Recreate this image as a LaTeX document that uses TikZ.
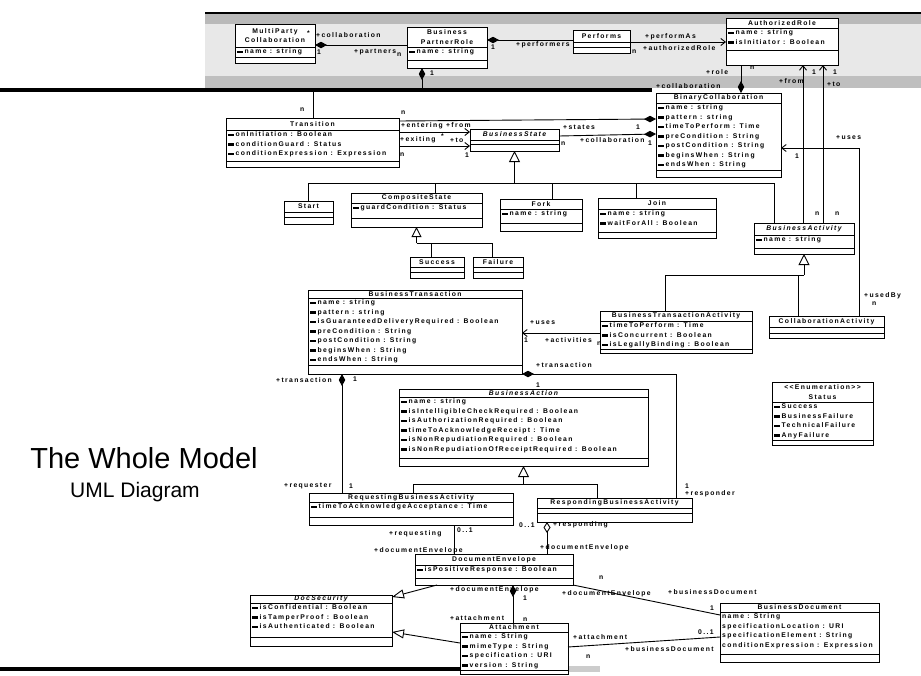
\documentclass[tikz,border=0pt]{standalone}
\usepackage{fontspec}
\setmainfont{Liberation Sans}
\newfontfamily\uf[LetterSpace=20]{Liberation Sans}
\usetikzlibrary{arrows.meta}
\newcommand\ico{\raisebox{0.3pt}{\rule{6pt}{2.6pt}}\kern1.5pt}
\newcommand\lf{\uf\bfseries\fontsize{6.8}{9.5}\selectfont}
\tikzset{
 cbox/.style={draw, line width=0.9pt, inner sep=0pt, outer sep=0pt, fill=white},
 cline/.style={line width=0.9pt},
 ctitle/.style={font=\lf, inner sep=0pt, align=center},
 cattr/.style={font=\lf, inner sep=0pt, align=left, anchor=north west},
 lbl/.style={font=\lf, inner sep=0pt, anchor=west},
 conn/.style={line width=0.9pt},
 comp/.style={{Diamond[length=12pt,width=6.5pt]}-},
 compe/.style={-{Diamond[length=12pt,width=6.5pt]}},
 aggr/.style={{Diamond[open,length=11pt,width=7pt]}-},
 nav/.style={-{Straight Barb[length=4.5pt,width=7pt]}},
 gen/.style={-{Triangle[open,length=11pt,width=11pt]}}
}
\newcommand\uclass[9]{%
  \pgfmathsetmacro\cw{#4-#2}%
  \pgfmathsetmacro\ch{#5-#3}%
  \node[cbox, minimum width=\cw pt, minimum height=\ch pt, anchor=north west] (#1) at (#2,#3) {};
  \draw[cline] (#2,#6) -- (#4,#6) (#2,#7) -- (#4,#7);
  \node[ctitle] (#1-t) at ({(#2+#4)/2},{(#3+#6)/2}) {#8};
  \node[cattr] (#1-a) at ({#2+2},{#6+1.6}) {#9};
}
\begin{document}
\begin{tikzpicture}[x=1pt,y=-1pt]
\useasboundingbox (0,0) rectangle (921,675);
\fill[white] (0,0) rectangle (921,675);
% top band
\fill[gray!18] (205,13) rectangle (921,88);
\fill[gray!55] (205,14) rectangle (921,24);
\fill[gray!50] (205,76) rectangle (921,88);
\draw[line width=2pt] (205,13) -- (921,13);
\draw[line width=3.5pt] (0,90) -- (652,90);
\draw[line width=4pt] (0,669) -- (460,669);
\fill[gray!40] (568,666) rectangle (600,672);

% classes
\uclass{mpc}{235}{24}{315}{63}{47}{57}{MultiParty\\Collaboration}{\ico name : string}
\uclass{bpr}{407}{27}{487}{68}{47}{60}{Business\\PartnerRole}{\ico name : string}
\uclass{perf}{573}{30}{630}{53}{42}{47}{Performs}{}
\uclass{ar}{726}{18}{838}{65}{28}{50}{AuthorizedRole}{\ico name : string\\\ico isInitiator : Boolean}
\uclass{bc}{656}{93}{781}{177}{103}{170}{BinaryCollaboration}{\ico name : string\\\ico pattern : string\\\ico timeToPerform : Time\\\ico preCondition : String\\\ico postCondition : String\\\ico beginsWhen : String\\\ico endsWhen : String}
\uclass{tr}{226}{118}{399}{167}{130}{161}{Transition}{\fontsize{6.8}{10}\selectfont\ico onInitiation : Boolean\\\ico conditionGuard : Status\\\ico conditionExpression : Expression}
\uclass{bs}{470}{129}{559}{151}{140}{144}{\itshape BusinessState}{}
\uclass{start}{284}{201}{333}{224}{212}{217}{Start}{}
\uclass{cs}{351}{193}{482}{227}{203}{218}{CompositeState}{\ico guardCondition : Status}
\uclass{fork}{500}{199}{582}{231}{209}{223}{Fork}{\ico name : string}
\uclass{join}{598}{198}{716}{238}{209}{232}{Join}{\ico name : string\\\ico waitForAll : Boolean}
\uclass{succ}{410}{257}{464}{278}{267}{272}{Success}{}
\uclass{fail}{473}{257}{523}{278}{267}{272}{Failure}{}
\uclass{ba}{754}{223}{854}{254}{235}{248}{\itshape BusinessActivity}{\ico name : string}
\uclass{bta}{600}{311}{752}{353}{321}{349}{BusinessTransactionActivity}{\fontsize{6.8}{9}\selectfont\ico timeToPerform : Time\\\ico isConcurrent : Boolean\\\ico isLegallyBinding : Boolean}
\uclass{ca}{769}{316}{884}{338}{327}{333}{CollaborationActivity}{}
\uclass{bt}{308}{290}{522}{374}{298}{365}{BusinessTransaction}{\ico name : string\\\ico pattern : string\\\ico isGuaranteedDeliveryRequired : Boolean\\\ico preCondition : String\\\ico postCondition : String\\\ico beginsWhen : String\\\ico endsWhen : String}
\uclass{bact}{399}{389}{648}{466}{397}{458}{\itshape BusinessAction}{\fontsize{6.8}{10}\selectfont\ico name : string\\\ico isIntelligibleCheckRequired : Boolean\\\ico isAuthorizationRequired : Boolean\\\ico timeToAcknowledgeReceipt : Time\\\ico isNonRepudiationRequired : Boolean\\\ico isNonRepudiationOfReceiptRequired : Boolean}
\uclass{status}{772}{382}{873}{445}{402}{440}{<<Enumeration>>\\Status}{\fontsize{6.8}{9}\selectfont\ico Success\\\ico BusinessFailure\\\ico TechnicalFailure\\\ico AnyFailure}
\uclass{req}{309}{493}{513}{525}{502}{517}{RequestingBusinessActivity}{\ico timeToAcknowledgeAcceptance : Time}
\uclass{resp}{537}{498}{692}{522}{508}{513}{RespondingBusinessActivity}{}
\uclass{de}{415}{554}{573}{585}{565}{578}{DocumentEnvelope}{\ico isPositiveResponse : Boolean}
\uclass{dsec}{250}{595}{392}{646}{603}{637}{\itshape DocSecurity}{\fontsize{6.8}{10}\selectfont\ico isConfidential : Boolean\\\ico isTamperProof : Boolean\\\ico isAuthenticated : Boolean}
\uclass{att}{460}{623}{568}{674}{632}{670}{Attachment}{\ico name : String\\\ico mimeType : String\\\ico specification : URI\\\ico version : String}
\uclass{bd}{720}{603}{879}{662}{612}{654}{BusinessDocument}{\fontsize{6.8}{10.5}\selectfont name : String\\specificationLocation : URI\\specificationElement : String\\conditionExpression : Expression}

% connectors
\draw[conn, comp] (mpc.east |- 0,45) -- (bpr.west |- 0,45);
\draw[conn, comp] (bpr.east |- 0,40) -- (perf.west |- 0,40);
\draw[conn, nav] (perf.east |- 0,42) -- (ar.west |- 0,42);
\coordinate (bprdown) at (422,90);
\draw[conn, comp] (bpr.south -| 422,0) -- (bprdown);
\coordinate (trup) at (313,91);
\draw[conn] (tr.north -| 313,0) -- (trup);
\draw[conn, compe] (ar.south -| 741,0) -- (bc.north -| 741,0);
\draw[conn, nav] (ba.north -| 803,0) -- (ar.south -| 803,0);
\draw[conn, nav] (ba.north -| 823,0) -- (ar.south -| 823,0);
\draw[conn, nav] (ca.north -| 859,0) |- (bc.east |- 0,148);
\draw[conn, nav] (tr.east |- 0,132) -- (bs.west |- 0,132);
\draw[conn, nav] (tr.east |- 0,146) -- (bs.west |- 0,146);
\draw[conn, compe] (tr.east |- 0,121) -- (bc.west |- 0,119);
\draw[conn, compe] (bs.east |- 0,136) -- (bc.west |- 0,134);
% generalisation tree of BusinessState
\draw[conn, gen] (bs.south |- 0,183) -- (bs.south);
\draw[conn] (start.north) -- (start.north |- 0,183) -- (774,183) -- (ba.north -| 774,0);
\draw[conn] (cs.north -| 435,0) -- (435,183);
\draw[conn] (fork.north -| 552,0) -- (552,183);
\draw[conn] (join.north -| 636,0) -- (636,183);
\draw[conn, -{Triangle[open,length=10pt,width=10pt]}] (cs.south |- 0,243) -- (cs.south);
\draw[conn] (cs.south |- 0,243) -- (492,243) -- (fail.north -| 492,0);
\draw[conn] (431,243) -- (succ.north -| 431,0);
\draw[conn, gen] (ba.south |- 0,275) -- (ba.south);
\draw[conn] (bta.north -| 665,0) |- (ba.south |- 0,275);
\draw[conn] (ca.north -| 798,0) -- (798,275);
% transaction part
\draw[conn, nav] (bta.west |- 0,333) -- (bt.east |- 0,333);
\draw[conn, comp] (bt.south east) -- (676,374) -- (resp.north -| 676,0);
\draw[conn, comp] (bt.south -| 342,0) -- (req.north -| 342,0);
\draw[conn, gen] (bact.south |- 0,484) -- (bact.south);
\draw[conn] (req.north -| 413,0) -- (413,484) -- (597,484) -- (resp.north -| 597,0);
\draw[conn] (req.south -| 454,0) -- (de.north -| 454,0);
\draw[conn, aggr] (resp.south -| 547,0) -- (de.north -| 547,0);
\draw[conn, -{Triangle[open,length=12pt,width=9pt]}] (de.south -| 437,0) -- (dsec.east |- 0,597);
\draw[conn, -{Triangle[open,length=12pt,width=9pt]}] (att.west |- 0,643) -- (dsec.east |- 0,632);
\draw[conn, comp] (de.south -| 513,0) -- (att.north -| 513,0);
\draw[conn] (de.south east) -- (bd.west |- 0,615);
\draw[conn] (att.east |- 0,647) -- (bd.west |- 0,637);

% labels
\node[lbl] (a1) at (307,33) {*};
\node[lbl] (a2) at (316,35) {+collaboration};
\node[lbl] (a3) at (317,52) {1};
\node[lbl] (a4) at (354,52) {+partners};
\node[lbl] (a5) at (397,55) {n};
\node[lbl] (a6) at (491,47) {1};
\node[lbl] (a7) at (516,45) {+performers};
\node[lbl] (a8) at (632,52) {n};
\node[lbl] (a9) at (645,37) {+performAs};
\node[lbl] (a10) at (643,48) {+authorizedRole};
\node[lbl] (a11) at (430,73) {1};
\node[lbl] (a12) at (706,72) {+role};
\node[lbl] (a13) at (750,68) {n};
\node[lbl] (a14) at (656,86) {+collaboration};
\node[lbl] (a15) at (779,81) {+from};
\node[lbl] (a16) at (812,72) {1};
\node[lbl] (a17) at (833,72) {1};
\node[lbl] (a18) at (827,84) {+to};
\node[lbl] (b1) at (563,127) {+states};
\node[lbl] (b2) at (636,127) {1};
\node[lbl] (b3) at (580,140) {+collaboration};
\node[lbl] (b4) at (648,143) {1};
\node[lbl] (b5) at (561,144) {n};
\node[lbl] (b6) at (300,110) {n};
\node[lbl] (b7) at (401,113) {n};
\node[lbl] (b8) at (401,126) {+entering +from};
\node[lbl] (b9) at (400,140) {+exiting};
\node[lbl] (b10) at (441,136) {*};
\node[lbl] (b11) at (450,140) {+to};
\node[lbl] (b12) at (400,155) {n};
\node[lbl] (b13) at (465,155) {1};
\node[lbl] (c1) at (836,138) {+uses};
\node[lbl] (c2) at (795,156) {1};
\node[lbl] (c3) at (864,296) {+usedBy};
\node[lbl] (c4) at (872,304) {n};
\node[lbl] (c5) at (815,214) {n};
\node[lbl] (c6) at (835,214) {n};
\node[lbl] (d1) at (530,323) {+uses};
\node[lbl] (d2) at (524,340) {1};
\node[lbl] (d3) at (545,340) {+activities};
\node[lbl] (d4) at (597,344) {n};
\node[lbl] (d5) at (536,365) {+transaction};
\node[lbl] (d6) at (536,385) {1};
\node[lbl] (d7) at (276,380) {+transaction};
\node[lbl] (d8) at (353,379) {1};
\node[lbl] (d9) at (284,486) {+requester};
\node[lbl] (d10) at (349,486) {1};
\node[lbl] (d11) at (685,486) {1};
\node[lbl] (d12) at (685,494) {+responder};
\node[lbl] (e1) at (389,534) {+requesting};
\node[lbl] (e2) at (457,530) {0..1};
\node[lbl] (e3) at (374,551) {+documentEnvelope};
\node[lbl] (e4) at (519,525) {0..1};
\node[lbl] (e5) at (553,525) {+responding};
\node[lbl] (e6) at (540,548) {+documentEnvelope};
\node[lbl] (e7) at (450,590) {+documentEnvelope};
\node[lbl] (e8) at (523,598) {1};
\node[lbl] (e9) at (450,618) {+attachment};
\node[lbl] (e10) at (523,620) {n};
\node[lbl] (e11) at (599,578) {n};
\node[lbl] (e12) at (562,594) {+documentEnvelope};
\node[lbl] (e13) at (668,592) {+businessDocument};
\node[lbl] (e14) at (710,608) {1};
\node[lbl] (e15) at (573,637) {+attachment};
\node[lbl] (e16) at (586,657) {n};
\node[lbl] (e17) at (698,632) {0..1};
\node[lbl] (e18) at (625,649) {+businessDocument};

% title
\node[inner sep=0pt] (ttl) at (144,458) {\fontsize{29}{32}\selectfont The Whole Model};
\node[inner sep=0pt] (sub) at (135,492) {\fontsize{21}{24}\selectfont UML Diagram};
\end{tikzpicture}
\end{document}
